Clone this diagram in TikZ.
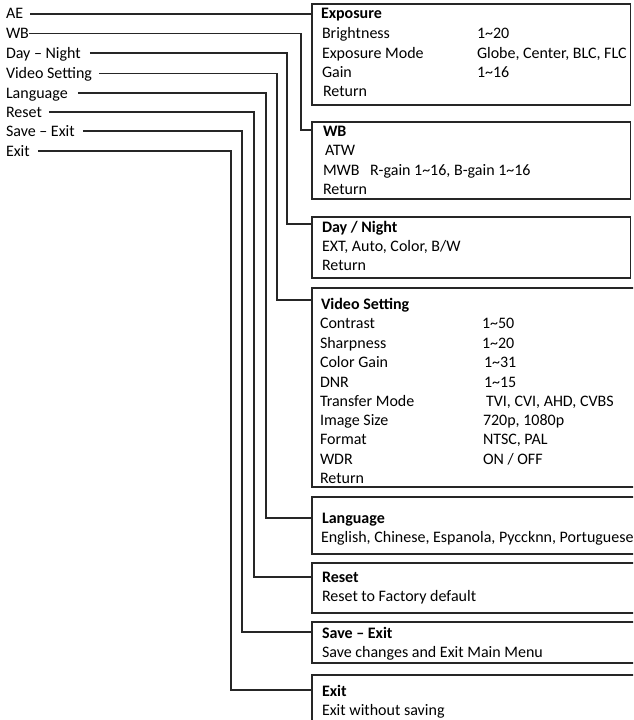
\documentclass[tikz,border=0pt]{standalone}
\usepackage{fontspec}
\setmainfont{Carlito}
\begin{document}
\begin{tikzpicture}[x=1pt,y=-1pt,
  every node/.style={inner sep=0pt,outer sep=0pt},
  txt/.style={anchor=west,text height=10pt,text depth=0pt,font=\fontsize{16}{19}\selectfont,text=black},
  ttl/.style={txt,font=\fontsize{16}{19}\selectfont\bfseries},
  menubox/.style={draw=black!85,line width=1.2pt,anchor=north west,minimum width=318.5pt},
  openbox/.style={draw=black!85,line width=1.2pt,anchor=north west,minimum width=340pt},
  conn/.style={draw=black!85,line width=1.2pt}]
\useasboundingbox (0,0) rectangle (633,720);
\clip (0,0) rectangle (633,720);
% left labels
\node[txt] (ae) at (6,14) {AE};
\node[txt] (wb) at (6,33.5) {WB};
\node[txt] (dn) at (6,53) {Day – Night};
\node[txt] (vs) at (6,73.5) {Video Setting};
\node[txt] (la) at (6,93) {Language};
\node[txt] (rs) at (6,112) {Reset};
\node[txt] (se) at (6,131) {Save – Exit};
\node[txt] (ex) at (6,151) {Exit};
% vertical lanes
\coordinate (vwb) at (301,0);
\coordinate (vdn) at (287,0);
\coordinate (vvs) at (277,0);
\coordinate (vla) at (266,0);
\coordinate (vrs) at (254,0);
\coordinate (vse) at (242,0);
\coordinate (vex) at (231,0);
% boxes
\node[menubox,minimum height=101pt] (expbox) at (312,4) {};
\node[menubox,minimum height=77pt] (wbbox) at (312,122) {};
\node[menubox,minimum height=61pt] (dnbox) at (312,217) {};
\node[openbox,minimum height=199pt] (vsbox) at (312,288) {};
\node[openbox,minimum height=57pt] (labox) at (312,497) {};
\node[openbox,minimum height=50pt] (rsbox) at (312,563) {};
\node[openbox,minimum height=41pt] (sebox) at (312,622) {};
\node[openbox,minimum height=70pt] (exbox) at (312,675) {};
% entry points on the boxes
\coordinate (inexp) at ([yshift=-10pt]expbox.north west);
\coordinate (inwb) at ([yshift=-8pt]wbbox.north west);
\coordinate (indn) at ([yshift=-7pt]dnbox.north west);
\coordinate (invs) at ([yshift=-12pt]vsbox.north west);
\coordinate (inla) at ([yshift=-21pt]labox.north west);
\coordinate (inrs) at ([yshift=-14pt]rsbox.north west);
\coordinate (inse) at ([yshift=-10pt]sebox.north west);
\coordinate (inex) at ([yshift=-15pt]exbox.north west);
% connectors
\draw[conn] ([xshift=7pt]ae.east) -- (inexp);
\draw[conn] (wb.east) -| (vwb |- inwb) -- (inwb);
\draw[conn] ([xshift=9pt]dn.east) -| (vdn |- indn) -- (indn);
\draw[conn] ([xshift=7pt]vs.east) -| (vvs |- invs) -- (invs);
\draw[conn] ([xshift=10pt]la.east) -| (vla |- inla) -- (inla);
\draw[conn] ([xshift=7pt]rs.east) -| (vrs |- inrs) -- (inrs);
\draw[conn] ([xshift=8pt]se.east) -| (vse |- inse) -- (inse);
\draw[conn] ([xshift=8pt]ex.east) -| (vex |- inex) -- (inex);
% Exposure
\node[ttl] (t1) at (321,14) {Exposure};
\node[txt] (e1) at (322,33) {Brightness};
\node[txt] (e2) at (322,53) {Exposure Mode};
\node[txt] (e3) at (322,72) {Gain};
\node[txt] (e4) at (323,91) {Return};
\node[txt] (e1v) at (477,33) {1\textasciitilde20};
\node[txt] (e2v) at (477,53) {Globe, Center, BLC, FLC};
\node[txt] (e3v) at (477,72) {1\textasciitilde16};
% WB
\node[ttl] (t2) at (323,131) {WB};
\node[txt] (w1) at (325,150) {ATW};
\node[txt] (w2) at (323,170) {MWB};
\node[txt] (w2v) at (370,170) {R-gain 1\textasciitilde16, B-gain 1\textasciitilde16};
\node[txt] (w3) at (323,189) {Return};
% Day / Night
\node[ttl] (t3) at (322,227) {Day / Night};
\node[txt] (d1) at (322,246) {EXT, Auto, Color, B/W};
\node[txt] (d2) at (322,265) {Return};
% Video Setting
\node[ttl] (t4) at (321,304) {Video Setting};
\node[txt] (v1) at (320,323) {Contrast};
\node[txt] (v2) at (320,343) {Sharpness};
\node[txt] (v3) at (320,362) {Color Gain};
\node[txt] (v4) at (320,382) {DNR};
\node[txt] (v5) at (320,401) {Transfer Mode};
\node[txt] (v6) at (320,420) {Image Size};
\node[txt] (v7) at (320,439) {Format};
\node[txt] (v8) at (320,459) {WDR};
\node[txt] (v9) at (320,478) {Return};
\node[txt] (v1v) at (482,323) {1\textasciitilde50};
\node[txt] (v2v) at (482,343) {1\textasciitilde20};
\node[txt] (v3v) at (484,362) {1\textasciitilde31};
\node[txt] (v4v) at (484,382) {1\textasciitilde15};
\node[txt] (v5v) at (486,401) {TVI, CVI, AHD, CVBS};
\node[txt] (v6v) at (483,420) {720p, 1080p};
\node[txt] (v7v) at (483,439) {NTSC, PAL};
\node[txt] (v8v) at (483,459) {ON / OFF};
% Language
\node[ttl] (t5) at (322,518) {Language};
\node[txt] (l1) at (321,537) {English, Chinese, Espanola, Pyccknn, Portuguese};
% Reset
\node[ttl] (t6) at (322,577) {Reset};
\node[txt] (r1) at (322,596) {Reset to Factory default};
% Save - Exit
\node[ttl] (t7) at (322,633) {Save – Exit};
\node[txt] (s1) at (322,652) {Save changes and Exit Main Menu};
% Exit
\node[ttl] (t8) at (322,691) {Exit};
\node[txt] (x1) at (322,710) {Exit without saving};
\end{tikzpicture}
\end{document}
